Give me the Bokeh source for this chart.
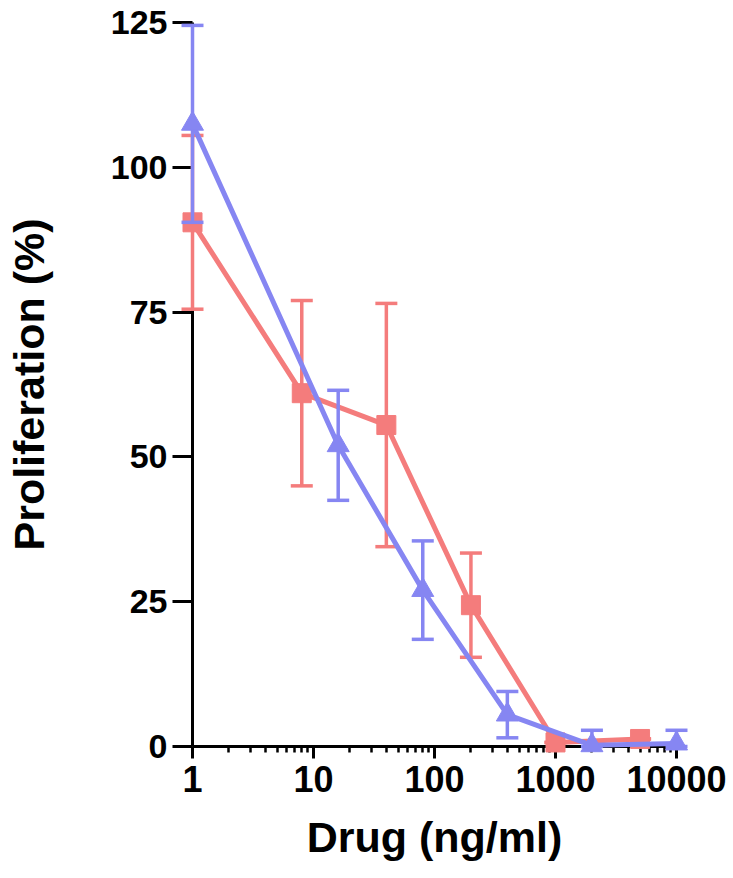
from bokeh.plotting import figure
from bokeh.models import Range1d, FixedTicker, BasicTickFormatter
from bokeh.embed import file_html
from bokeh.resources import INLINE

# ---- data ----
red_x = [1, 8, 40, 200, 1000, 5000]
red_y = [90.5, 61.0, 55.5, 24.4, 0.7, 1.3]
red_err = [15.0, 16.0, 21.0, 9.0, 0.0, 0.0]

blue_x = [1, 16, 80, 400, 2000, 10000]
blue_y = [107.5, 52.0, 27.0, 5.5, 0.2, 0.5]
blue_err = [17.0, 9.5, 8.5, 4.0, 2.6, 2.3]

x_ticks = [1, 10, 100, 1000, 10000]
x_minor = [m * 10 ** k for k in range(4) for m in range(2, 10)]
y_ticks = [0, 25, 50, 75, 100, 125]

RED = "#F47C7C"
BLUE = "#8686F2"
FONT = "Liberation Sans"

p = figure(width=731, height=876, x_axis_type="log",
           x_range=Range1d(x_ticks[0], x_ticks[-1]),
           y_range=Range1d(y_ticks[0], y_ticks[-1]),
           output_backend="svg", toolbar_location=None,
           min_border_left=192, min_border_right=55,
           min_border_top=22, min_border_bottom=130)
p.outline_line_color = None
p.grid.visible = False
p.background_fill_color = "white"
p.border_fill_color = "white"

p.xaxis.ticker = FixedTicker(ticks=x_ticks, minor_ticks=x_minor)
p.yaxis.ticker = FixedTicker(ticks=y_ticks, minor_ticks=[])
p.xaxis.formatter = BasicTickFormatter(use_scientific=False)
p.yaxis.formatter = BasicTickFormatter(use_scientific=False)

for ax in (p.xaxis[0], p.yaxis[0]):
    ax.axis_line_width = 3
    ax.axis_line_color = "black"
    ax.major_tick_line_width = 3
    ax.minor_tick_line_width = 2.5
    ax.major_tick_in = 0
    ax.minor_tick_in = 0
    ax.major_label_text_font = FONT
    ax.major_label_text_font_style = "bold"
    ax.major_label_text_color = "black"
    ax.axis_label_text_font = FONT
    ax.axis_label_text_font_style = "bold"
    ax.axis_label_text_color = "black"
    ax.axis_label_text_font_size = "43px"

p.xaxis.major_tick_out = 12
p.xaxis.minor_tick_out = 6
p.xaxis.major_label_text_font_size = "36px"
p.xaxis.major_label_standoff = 7
p.xaxis.axis_label = "Drug (ng/ml)"
p.xaxis.axis_label_standoff = 18

p.yaxis.major_tick_out = 20
p.yaxis.minor_tick_out = 0
p.yaxis.major_label_text_font_size = "34px"
p.yaxis.major_label_standoff = 5
p.yaxis.axis_label = "Proliferation (%)"
p.yaxis.axis_label_standoff = 55


def series(xs, ys, errs, color, marker, size):
    lower = [max(y - e, 0) for y, e in zip(ys, errs)]
    upper = [y + e for y, e in zip(ys, errs)]
    rs = [
        p.line(xs, ys, line_color=color, line_width=5),
        p.segment(x0=xs, y0=lower, x1=xs, y1=upper, line_color=color, line_width=3.5),
        p.dash(xs, upper, size=22, line_color=color, line_width=3.5),
        p.dash(xs, lower, size=22, line_color=color, line_width=3.5),
        p.scatter(xs, ys, marker=marker, size=size, fill_color=color, line_color=color),
    ]
    for r in rs:
        r.level = "overlay"


series(red_x, red_y, red_err, RED, "square", 19)
series(blue_x, blue_y, blue_err, BLUE, "triangle", 22)

open("out.html", "w").write(file_html(p, INLINE))
